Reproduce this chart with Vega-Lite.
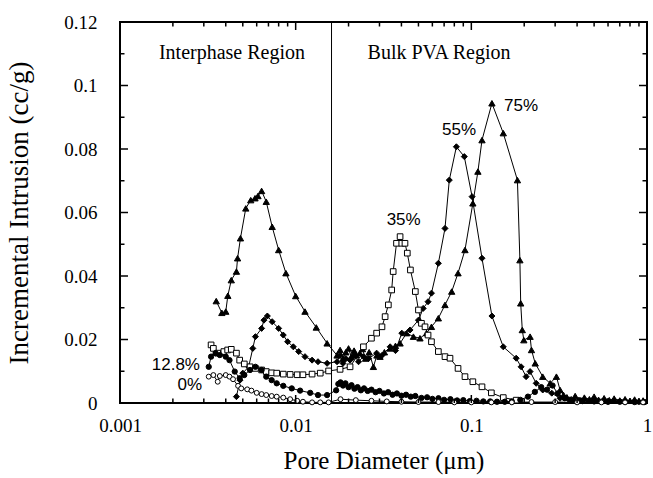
{
"$schema":"https://vega.github.io/schema/vega-lite/v6.json",
"width":527,"height":381,
"autosize":"none",
"padding":{"left":120,"top":22,"right":6,"bottom":75},
"background":"white",
"config":{"view":{"stroke":"black","strokeWidth":2},
 "axis":{"domain":false,"grid":false,"ticks":false,"tickSize":0,"labelColor":"black","labelFont":"Liberation Serif","labelFontSize":19,"titleFont":"Liberation Serif","titleFontSize":25,"titleFontWeight":"normal","titleColor":"black","labelOverlap":false,"labelFlush":false}},
"datasets":{
"curves":[
{"s":"75%","d":0.00353,"v":0.0321},{"s":"75%","d":0.0038,"v":0.0284},{"s":"75%","d":0.0040,"v":0.0288},{"s":"75%","d":0.00411,"v":0.0338},{"s":"75%","d":0.0043,"v":0.0387},{"s":"75%","d":0.0046,"v":0.0414},{"s":"75%","d":0.00467,"v":0.0456},{"s":"75%","d":0.00485,"v":0.0519},{"s":"75%","d":0.0052,"v":0.0613},{"s":"75%","d":0.00555,"v":0.0639},{"s":"75%","d":0.00587,"v":0.0645},{"s":"75%","d":0.0061,"v":0.0652},{"s":"75%","d":0.0064,"v":0.0668},{"s":"75%","d":0.0068,"v":0.0634},{"s":"75%","d":0.00735,"v":0.0555},{"s":"75%","d":0.0080,"v":0.0482},{"s":"75%","d":0.0088,"v":0.0409},{"s":"75%","d":0.0100,"v":0.0337},{"s":"75%","d":0.0113,"v":0.0288},{"s":"75%","d":0.0131,"v":0.0238},{"s":"75%","d":0.0151,"v":0.0188},
{"s":"75%","d":0.0172,"v":0.0150},{"s":"75%","d":0.0179,"v":0.0167},{"s":"75%","d":0.0186,"v":0.0140},{"s":"75%","d":0.0193,"v":0.0160},{"s":"75%","d":0.0200,"v":0.0172},{"s":"75%","d":0.0207,"v":0.0145},{"s":"75%","d":0.0215,"v":0.0165},{"s":"75%","d":0.0222,"v":0.0150},{"s":"75%","d":0.0232,"v":0.0157},{"s":"75%","d":0.0240,"v":0.0170},{"s":"75%","d":0.0250,"v":0.0140},{"s":"75%","d":0.0262,"v":0.0160},{"s":"75%","d":0.0277,"v":0.0114},{"s":"75%","d":0.0290,"v":0.0150},{"s":"75%","d":0.0302,"v":0.0146},{"s":"75%","d":0.0320,"v":0.0160},{"s":"75%","d":0.0345,"v":0.0172},{"s":"75%","d":0.0370,"v":0.0180},{"s":"75%","d":0.0393,"v":0.0188},{"s":"75%","d":0.0428,"v":0.0220},{"s":"75%","d":0.0468,"v":0.0209},{"s":"75%","d":0.051,"v":0.0204},{"s":"75%","d":0.0556,"v":0.0220},{"s":"75%","d":0.0593,"v":0.0240},{"s":"75%","d":0.0649,"v":0.0267},{"s":"75%","d":0.0708,"v":0.0309},{"s":"75%","d":0.0773,"v":0.0351},{"s":"75%","d":0.084,"v":0.0409},{"s":"75%","d":0.092,"v":0.0482},{"s":"75%","d":0.102,"v":0.0629},{"s":"75%","d":0.109,"v":0.0729},{"s":"75%","d":0.115,"v":0.0828},{"s":"75%","d":0.131,"v":0.0944},{"s":"75%","d":0.152,"v":0.0850},{"s":"75%","d":0.183,"v":0.0702},{"s":"75%","d":0.189,"v":0.0450},{"s":"75%","d":0.191,"v":0.0314},{"s":"75%","d":0.195,"v":0.0230},{"s":"75%","d":0.199,"v":0.0198},{"s":"75%","d":0.216,"v":0.0209},{"s":"75%","d":0.22,"v":0.0167},{"s":"75%","d":0.231,"v":0.0125},{"s":"75%","d":0.255,"v":0.0083},{"s":"75%","d":0.281,"v":0.0062},{"s":"75%","d":0.305,"v":0.0083},{"s":"75%","d":0.32,"v":0.0041},{"s":"75%","d":0.335,"v":0.0025},{"s":"75%","d":0.35,"v":0.0018},{"s":"75%","d":0.37,"v":0.0012},{"s":"75%","d":0.39,"v":0.0022},{"s":"75%","d":0.41,"v":0.0010},{"s":"75%","d":0.44,"v":0.0017},{"s":"75%","d":0.47,"v":0.0012},{"s":"75%","d":0.50,"v":0.0020},{"s":"75%","d":0.53,"v":0.0010},{"s":"75%","d":0.57,"v":0.0015},{"s":"75%","d":0.61,"v":0.0009},{"s":"75%","d":0.65,"v":0.0014},{"s":"75%","d":0.70,"v":0.0008},{"s":"75%","d":0.75,"v":0.0012},{"s":"75%","d":0.80,"v":0.0007},{"s":"75%","d":0.85,"v":0.0011},{"s":"75%","d":0.90,"v":0.0006},{"s":"75%","d":0.95,"v":0.0008},
{"s":"55%","d":0.0046,"v":0.0020},{"s":"55%","d":0.00482,"v":0.0072},{"s":"55%","d":0.0050,"v":0.0094},{"s":"55%","d":0.0054,"v":0.0114},{"s":"55%","d":0.0057,"v":0.0172},{"s":"55%","d":0.0059,"v":0.0209},{"s":"55%","d":0.0064,"v":0.0235},{"s":"55%","d":0.0066,"v":0.0261},{"s":"55%","d":0.0069,"v":0.0274},{"s":"55%","d":0.00735,"v":0.0256},{"s":"55%","d":0.0080,"v":0.0235},{"s":"55%","d":0.0085,"v":0.0214},{"s":"55%","d":0.0090,"v":0.0193},{"s":"55%","d":0.0097,"v":0.0177},{"s":"55%","d":0.0104,"v":0.0162},{"s":"55%","d":0.0113,"v":0.0146},{"s":"55%","d":0.0124,"v":0.0135},{"s":"55%","d":0.0134,"v":0.0130},{"s":"55%","d":0.0151,"v":0.0125},
{"s":"55%","d":0.0172,"v":0.0130},{"s":"55%","d":0.0179,"v":0.0150},{"s":"55%","d":0.0186,"v":0.0125},{"s":"55%","d":0.0193,"v":0.0140},{"s":"55%","d":0.0204,"v":0.0135},{"s":"55%","d":0.0215,"v":0.0150},{"s":"55%","d":0.0228,"v":0.0130},{"s":"55%","d":0.0243,"v":0.0146},{"s":"55%","d":0.0260,"v":0.0140},{"s":"55%","d":0.0289,"v":0.0157},{"s":"55%","d":0.0310,"v":0.0150},{"s":"55%","d":0.0345,"v":0.0177},{"s":"55%","d":0.0370,"v":0.0165},{"s":"55%","d":0.0402,"v":0.0220},{"s":"55%","d":0.0448,"v":0.0230},{"s":"55%","d":0.050,"v":0.0261},{"s":"55%","d":0.0532,"v":0.0298},{"s":"55%","d":0.0567,"v":0.0319},{"s":"55%","d":0.0593,"v":0.0346},{"s":"55%","d":0.0649,"v":0.0440},{"s":"55%","d":0.0708,"v":0.0550},{"s":"55%","d":0.0749,"v":0.0702},{"s":"55%","d":0.0822,"v":0.0807},{"s":"55%","d":0.0912,"v":0.0776},{"s":"55%","d":0.101,"v":0.0650},{"s":"55%","d":0.115,"v":0.0456},{"s":"55%","d":0.131,"v":0.0274},{"s":"55%","d":0.152,"v":0.0177},{"s":"55%","d":0.180,"v":0.0141},{"s":"55%","d":0.192,"v":0.0114},{"s":"55%","d":0.205,"v":0.0083},{"s":"55%","d":0.216,"v":0.0099},{"s":"55%","d":0.234,"v":0.0062},{"s":"55%","d":0.255,"v":0.0041},{"s":"55%","d":0.287,"v":0.0031},{"s":"55%","d":0.32,"v":0.0015},{"s":"55%","d":0.36,"v":0.0010},{"s":"55%","d":0.42,"v":0.0008},{"s":"55%","d":0.50,"v":0.0006},{"s":"55%","d":0.60,"v":0.0005},{"s":"55%","d":0.75,"v":0.0004},{"s":"55%","d":0.90,"v":0.0004},
{"s":"35%","d":0.0033,"v":0.0183},{"s":"35%","d":0.0034,"v":0.0172},{"s":"35%","d":0.0036,"v":0.0157},{"s":"35%","d":0.0039,"v":0.0162},{"s":"35%","d":0.0041,"v":0.0167},{"s":"35%","d":0.0043,"v":0.0169},{"s":"35%","d":0.0046,"v":0.0157},{"s":"35%","d":0.0048,"v":0.0135},{"s":"35%","d":0.0051,"v":0.0123},{"s":"35%","d":0.0055,"v":0.0114},{"s":"35%","d":0.0059,"v":0.0109},{"s":"35%","d":0.0064,"v":0.0104},{"s":"35%","d":0.0068,"v":0.0099},{"s":"35%","d":0.0073,"v":0.0095},{"s":"35%","d":0.0078,"v":0.0094},{"s":"35%","d":0.0085,"v":0.0091},{"s":"35%","d":0.0093,"v":0.0090},{"s":"35%","d":0.0102,"v":0.0089},{"s":"35%","d":0.0110,"v":0.0089},{"s":"35%","d":0.0124,"v":0.0091},{"s":"35%","d":0.0138,"v":0.0094},{"s":"35%","d":0.0154,"v":0.0101},{"s":"35%","d":0.0179,"v":0.0106},{"s":"35%","d":0.0204,"v":0.0114},{"s":"35%","d":0.0243,"v":0.0177},{"s":"35%","d":0.027,"v":0.0204},{"s":"35%","d":0.0289,"v":0.0220},{"s":"35%","d":0.031,"v":0.0240},{"s":"35%","d":0.0323,"v":0.0272},{"s":"35%","d":0.0337,"v":0.0309},{"s":"35%","d":0.0352,"v":0.0356},{"s":"35%","d":0.0359,"v":0.0414},{"s":"35%","d":0.0375,"v":0.0503},{"s":"35%","d":0.0393,"v":0.0524},{"s":"35%","d":0.0402,"v":0.0503},{"s":"35%","d":0.0419,"v":0.0503},{"s":"35%","d":0.0432,"v":0.0472},{"s":"35%","d":0.045,"v":0.0419},{"s":"35%","d":0.048,"v":0.0351},{"s":"35%","d":0.050,"v":0.0293},{"s":"35%","d":0.052,"v":0.0251},{"s":"35%","d":0.0545,"v":0.0240},{"s":"35%","d":0.0567,"v":0.0214},{"s":"35%","d":0.0593,"v":0.0193},{"s":"35%","d":0.0649,"v":0.0162},{"s":"35%","d":0.0708,"v":0.0146},{"s":"35%","d":0.0756,"v":0.0141},{"s":"35%","d":0.084,"v":0.0109},{"s":"35%","d":0.092,"v":0.0083},{"s":"35%","d":0.102,"v":0.0067},{"s":"35%","d":0.115,"v":0.0051},{"s":"35%","d":0.130,"v":0.0032},{"s":"35%","d":0.152,"v":0.0017},{"s":"35%","d":0.18,"v":0.0009},
{"s":"12.8%","d":0.0032,"v":0.0114},{"s":"12.8%","d":0.0033,"v":0.0146},{"s":"12.8%","d":0.0035,"v":0.0157},{"s":"12.8%","d":0.0037,"v":0.0151},{"s":"12.8%","d":0.0040,"v":0.0146},{"s":"12.8%","d":0.0042,"v":0.0135},{"s":"12.8%","d":0.0045,"v":0.0099},{"s":"12.8%","d":0.0048,"v":0.0078},{"s":"12.8%","d":0.0051,"v":0.0088},{"s":"12.8%","d":0.0055,"v":0.0104},{"s":"12.8%","d":0.0059,"v":0.0114},{"s":"12.8%","d":0.0064,"v":0.0104},{"s":"12.8%","d":0.0068,"v":0.0083},{"s":"12.8%","d":0.0073,"v":0.0072},{"s":"12.8%","d":0.0078,"v":0.0062},{"s":"12.8%","d":0.0085,"v":0.0054},{"s":"12.8%","d":0.0095,"v":0.0046},{"s":"12.8%","d":0.0106,"v":0.0039},{"s":"12.8%","d":0.0121,"v":0.0032},{"s":"12.8%","d":0.0134,"v":0.0025},{"s":"12.8%","d":0.0151,"v":0.0025},
{"s":"12.8%","d":0.0170,"v":0.0040},{"s":"12.8%","d":0.0175,"v":0.0060},{"s":"12.8%","d":0.0180,"v":0.0065},{"s":"12.8%","d":0.0186,"v":0.0055},{"s":"12.8%","d":0.0192,"v":0.0062},{"s":"12.8%","d":0.0200,"v":0.0050},{"s":"12.8%","d":0.0208,"v":0.0056},{"s":"12.8%","d":0.0216,"v":0.0045},{"s":"12.8%","d":0.0225,"v":0.0050},{"s":"12.8%","d":0.0235,"v":0.0040},{"s":"12.8%","d":0.0245,"v":0.0046},{"s":"12.8%","d":0.0257,"v":0.0038},{"s":"12.8%","d":0.0270,"v":0.0042},{"s":"12.8%","d":0.0285,"v":0.0034},{"s":"12.8%","d":0.0300,"v":0.0038},{"s":"12.8%","d":0.0318,"v":0.0030},{"s":"12.8%","d":0.0336,"v":0.0034},{"s":"12.8%","d":0.0356,"v":0.0026},{"s":"12.8%","d":0.0377,"v":0.0030},{"s":"12.8%","d":0.0400,"v":0.0023},{"s":"12.8%","d":0.0425,"v":0.0026},{"s":"12.8%","d":0.0452,"v":0.0020},{"s":"12.8%","d":0.048,"v":0.0022},{"s":"12.8%","d":0.052,"v":0.0016},{"s":"12.8%","d":0.056,"v":0.0018},{"s":"12.8%","d":0.060,"v":0.0013},{"s":"12.8%","d":0.065,"v":0.0015},{"s":"12.8%","d":0.070,"v":0.0010},{"s":"12.8%","d":0.076,"v":0.0012},{"s":"12.8%","d":0.083,"v":0.0008},{"s":"12.8%","d":0.090,"v":0.0009},{"s":"12.8%","d":0.098,"v":0.0006},{"s":"12.8%","d":0.107,"v":0.0007},{"s":"12.8%","d":0.117,"v":0.0005},{"s":"12.8%","d":0.128,"v":0.0005},{"s":"12.8%","d":0.140,"v":0.0004},{"s":"12.8%","d":0.155,"v":0.0004},{"s":"12.8%","d":0.170,"v":0.0005},{"s":"12.8%","d":0.19,"v":0.0010},{"s":"12.8%","d":0.21,"v":0.0020},{"s":"12.8%","d":0.23,"v":0.0035},{"s":"12.8%","d":0.25,"v":0.0050},{"s":"12.8%","d":0.27,"v":0.0042},{"s":"12.8%","d":0.29,"v":0.0055},{"s":"12.8%","d":0.31,"v":0.0030},{"s":"12.8%","d":0.34,"v":0.0015},{"s":"12.8%","d":0.38,"v":0.0008},{"s":"12.8%","d":0.43,"v":0.0006},{"s":"12.8%","d":0.5,"v":0.0005},{"s":"12.8%","d":0.6,"v":0.0004},{"s":"12.8%","d":0.7,"v":0.0004},{"s":"12.8%","d":0.85,"v":0.0003},{"s":"12.8%","d":0.97,"v":0.0003},
{"s":"0%","d":0.0032,"v":0.0083},{"s":"0%","d":0.0034,"v":0.0088},{"s":"0%","d":0.0036,"v":0.0067},{"s":"0%","d":0.0037,"v":0.0085},{"s":"0%","d":0.0040,"v":0.0088},{"s":"0%","d":0.0042,"v":0.0083},{"s":"0%","d":0.0044,"v":0.0075},{"s":"0%","d":0.0047,"v":0.0054},{"s":"0%","d":0.0049,"v":0.0046},{"s":"0%","d":0.0053,"v":0.0043},{"s":"0%","d":0.0056,"v":0.0039},{"s":"0%","d":0.0060,"v":0.0032},{"s":"0%","d":0.0064,"v":0.0028},{"s":"0%","d":0.0068,"v":0.0025},{"s":"0%","d":0.0073,"v":0.0022},{"s":"0%","d":0.0078,"v":0.0020},{"s":"0%","d":0.0085,"v":0.0017},{"s":"0%","d":0.0093,"v":0.0012},{"s":"0%","d":0.0102,"v":0.0007},{"s":"0%","d":0.011,"v":0.0004},{"s":"0%","d":0.0124,"v":0.0002},{"s":"0%","d":0.0138,"v":0.0002},{"s":"0%","d":0.0154,"v":0.0002},{"s":"0%","d":0.018,"v":0.0012},{"s":"0%","d":0.022,"v":0.0009},{"s":"0%","d":0.027,"v":0.0007},{"s":"0%","d":0.033,"v":0.0005},{"s":"0%","d":0.04,"v":0.0004},{"s":"0%","d":0.05,"v":0.0003},{"s":"0%","d":0.065,"v":0.0003},{"s":"0%","d":0.08,"v":0.0002},{"s":"0%","d":0.1,"v":0.0002},{"s":"0%","d":0.13,"v":0.0002},{"s":"0%","d":0.17,"v":0.0002},{"s":"0%","d":0.22,"v":0.0003},{"s":"0%","d":0.3,"v":0.0003},{"s":"0%","d":0.4,"v":0.0002},{"s":"0%","d":0.55,"v":0.0002},{"s":"0%","d":0.75,"v":0.0002},{"s":"0%","d":0.95,"v":0.0002}
],
"pct":[
{"t":"75%","d":0.192,"v":0.0936},
{"t":"55%","d":0.0851,"v":0.0860},
{"t":"35%","d":0.0412,"v":0.0576},
{"t":"12.8%","d":0.00208,"v":0.0120},
{"t":"0%","d":0.0025,"v":0.0057}
],
"regions":[
{"t":"Interphase Region","d":0.00434,"v":0.1103},
{"t":"Bulk PVA Region","d":0.0655,"v":0.1103}
],
"divider":[{"d":0.016}],
"xmaj":[{"d":0.01},{"d":0.1}],
"xmin":[{"d":0.002},{"d":0.003},{"d":0.004},{"d":0.005},{"d":0.006},{"d":0.007},{"d":0.008},{"d":0.009},{"d":0.02},{"d":0.03},{"d":0.04},{"d":0.05},{"d":0.06},{"d":0.07},{"d":0.08},{"d":0.09},{"d":0.2},{"d":0.3},{"d":0.4},{"d":0.5},{"d":0.6},{"d":0.7},{"d":0.8},{"d":0.9}],
"ymaj":[{"v":0.02},{"v":0.04},{"v":0.06},{"v":0.08},{"v":0.1}],
"ymin":[{"v":0.01},{"v":0.03},{"v":0.05},{"v":0.07},{"v":0.09},{"v":0.11}]
},
"layer":[
{"data":{"name":"curves"},
 "mark":{"type":"line","color":"black","strokeWidth":1},
 "encoding":{
  "x":{"field":"d","type":"quantitative","scale":{"type":"log","domain":[0.001,1]},
   "axis":{"orient":"bottom","title":"Pore Diameter (μm)","titlePadding":13,"values":[0.001,0.01,0.1,1],"labelExpr":"'' + datum.value","labelPadding":13}},
  "y":{"field":"v","type":"quantitative","scale":{"domain":[0,0.12],"nice":false,"zero":true},
   "axis":{"orient":"left","title":"Incremental Intrusion (cc/g)","titleFontSize":27,"titlePadding":30,"values":[0,0.02,0.04,0.06,0.08,0.1,0.12],"labelExpr":"'' + datum.value","labelPadding":23}},
  "detail":{"field":"s"}}},
{"data":{"name":"curves"},
 "mark":{"type":"point","stroke":"black","strokeWidth":1,"opacity":1},
 "encoding":{
  "x":{"field":"d","type":"quantitative","axis":null},
  "y":{"field":"v","type":"quantitative","axis":null},
  "shape":{"field":"s","type":"nominal","scale":{"domain":["75%","55%","35%","12.8%","0%"],"range":["triangle-up","diamond","square","circle","circle"]},"legend":null},
  "fill":{"field":"s","type":"nominal","scale":{"domain":["75%","55%","35%","12.8%","0%"],"range":["black","black","white","black","white"]},"legend":null},
  "size":{"field":"s","type":"nominal","scale":{"domain":["75%","55%","35%","12.8%","0%"],"range":[40,24,28,32,28]},"legend":null}}},
{"data":{"name":"xmaj"},"mark":{"type":"tick","orient":"vertical","size":16,"thickness":1.5,"color":"black","opacity":1,"clip":true},
 "encoding":{"x":{"field":"d","type":"quantitative","axis":null},"y":{"datum":0,"type":"quantitative","axis":null}}},
{"data":{"name":"xmaj"},"mark":{"type":"tick","orient":"vertical","size":16,"thickness":1.5,"color":"black","opacity":1,"clip":true},
 "encoding":{"x":{"field":"d","type":"quantitative","axis":null},"y":{"datum":0.12,"type":"quantitative","axis":null}}},
{"data":{"name":"xmin"},"mark":{"type":"tick","orient":"vertical","size":9,"thickness":1.5,"color":"black","opacity":1,"clip":true},
 "encoding":{"x":{"field":"d","type":"quantitative","axis":null},"y":{"datum":0,"type":"quantitative","axis":null}}},
{"data":{"name":"xmin"},"mark":{"type":"tick","orient":"vertical","size":9,"thickness":1.5,"color":"black","opacity":1,"clip":true},
 "encoding":{"x":{"field":"d","type":"quantitative","axis":null},"y":{"datum":0.12,"type":"quantitative","axis":null}}},
{"data":{"name":"ymaj"},"mark":{"type":"tick","orient":"horizontal","size":16,"thickness":1.5,"color":"black","opacity":1,"clip":true},
 "encoding":{"y":{"field":"v","type":"quantitative","axis":null},"x":{"datum":0.001,"type":"quantitative","axis":null}}},
{"data":{"name":"ymaj"},"mark":{"type":"tick","orient":"horizontal","size":16,"thickness":1.5,"color":"black","opacity":1,"clip":true},
 "encoding":{"y":{"field":"v","type":"quantitative","axis":null},"x":{"datum":1,"type":"quantitative","axis":null}}},
{"data":{"name":"ymin"},"mark":{"type":"tick","orient":"horizontal","size":9,"thickness":1.5,"color":"black","opacity":1,"clip":true},
 "encoding":{"y":{"field":"v","type":"quantitative","axis":null},"x":{"datum":0.001,"type":"quantitative","axis":null}}},
{"data":{"name":"ymin"},"mark":{"type":"tick","orient":"horizontal","size":9,"thickness":1.5,"color":"black","opacity":1,"clip":true},
 "encoding":{"y":{"field":"v","type":"quantitative","axis":null},"x":{"datum":1,"type":"quantitative","axis":null}}},
{"data":{"name":"divider"},
 "mark":{"type":"rule","color":"black","strokeWidth":1},
 "encoding":{"x":{"field":"d","type":"quantitative","axis":null}}},
{"data":{"name":"pct"},
 "mark":{"type":"text","font":"Liberation Sans","fontSize":17,"color":"black","baseline":"middle","align":"center"},
 "encoding":{"x":{"field":"d","type":"quantitative","axis":null},"y":{"field":"v","type":"quantitative","axis":null},"text":{"field":"t"}}},
{"data":{"name":"regions"},
 "mark":{"type":"text","font":"Liberation Serif","fontSize":20,"color":"black","baseline":"middle","align":"center"},
 "encoding":{"x":{"field":"d","type":"quantitative","axis":null},"y":{"field":"v","type":"quantitative","axis":null},"text":{"field":"t"}}}
],
"resolve":{"axis":{"x":"independent","y":"independent"}}
}
